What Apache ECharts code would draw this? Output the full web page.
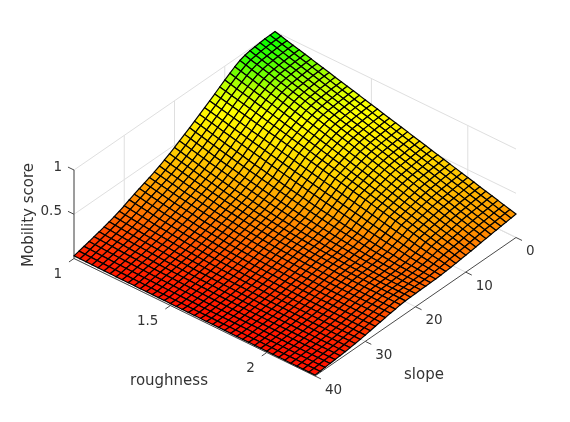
<!DOCTYPE html>
<html><head><meta charset="utf-8">
<style>html,body{margin:0;padding:0;background:#fff}#c{width:570px;height:422px}</style>
<script src="https://cdn.jsdelivr.net/npm/echarts@6/dist/echarts.min.js"></script>
</head><body><div id="c"></div>
<script>
// Axis ticks and labels
const roughTicks = [1, 1.5, 2];
const slopeTicks = [0, 10, 20, 30, 40];
const scoreTicks = [0.5, 1];
const roughLimits = [1, 2.25];
const slopeLimits = [0, 40];
const scoreLimits = [0, 1];
const roughTitle = 'roughness';
const slopeTitle = 'slope';
const scoreTitle = 'Mobility score';
// Colour scale of the surface
const colourLevels = [0.02, 0.15, 0.28, 0.45, 0.7, 0.8, 1];
const colourValues = [[255,20,0],[255,98,0],[255,155,0],[255,203,0],[255,255,0],[205,255,0],[0,255,0]];
// Mobility score: one row per slope 0..40, one value per roughness step (1..2.25 in 40 steps)
const score = [
[1.000,.982,.963,.945,.927,.908,.890,.871,.853,.835,.816,.798,.780,.761,.743,.724,.706,.688,.669,.651,.633,.614,.596,.577,.559,.541,.522,.504,.486,.467,.449,.430,.412,.394,.375,.357,.339,.320,.302,.283,.265],
[.998,.980,.961,.943,.924,.906,.887,.869,.850,.832,.813,.795,.776,.758,.739,.721,.702,.684,.665,.647,.628,.610,.591,.573,.554,.536,.517,.499,.480,.462,.443,.425,.406,.388,.369,.351,.332,.314,.295,.277,.258],
[.995,.976,.958,.939,.921,.902,.883,.865,.846,.828,.809,.790,.772,.753,.735,.716,.697,.679,.660,.642,.623,.604,.586,.567,.549,.530,.511,.493,.474,.456,.437,.418,.400,.381,.363,.344,.325,.307,.288,.270,.251],
[.990,.971,.953,.934,.915,.897,.878,.859,.841,.822,.804,.785,.766,.748,.729,.710,.692,.673,.654,.636,.617,.598,.580,.561,.542,.524,.505,.486,.468,.449,.431,.412,.393,.375,.356,.337,.319,.300,.281,.263,.244],
[.984,.965,.947,.928,.909,.891,.872,.853,.835,.816,.797,.779,.760,.741,.723,.704,.685,.667,.648,.629,.611,.592,.573,.555,.536,.517,.498,.480,.461,.442,.424,.405,.386,.368,.349,.330,.312,.293,.274,.256,.237],
[.977,.958,.940,.921,.902,.884,.865,.846,.828,.809,.790,.772,.753,.734,.716,.697,.678,.660,.641,.622,.604,.585,.566,.548,.529,.510,.491,.473,.454,.435,.417,.398,.379,.361,.342,.323,.305,.286,.267,.249,.230],
[.966,.947,.929,.910,.892,.873,.854,.836,.817,.799,.780,.761,.743,.724,.706,.687,.668,.650,.631,.613,.594,.575,.557,.538,.520,.501,.482,.464,.445,.427,.408,.389,.371,.352,.334,.315,.296,.278,.259,.241,.222],
[.946,.928,.909,.891,.873,.855,.836,.818,.800,.781,.763,.745,.726,.708,.690,.672,.653,.635,.617,.598,.580,.562,.543,.525,.507,.489,.470,.452,.434,.415,.397,.379,.360,.342,.324,.306,.287,.269,.251,.232,.214],
[.915,.897,.880,.862,.844,.826,.809,.791,.773,.755,.738,.720,.702,.685,.667,.649,.631,.614,.596,.578,.561,.543,.525,.507,.490,.472,.454,.436,.419,.401,.383,.366,.348,.330,.312,.295,.277,.259,.241,.224,.206],
[.880,.863,.846,.829,.812,.795,.778,.761,.744,.727,.710,.692,.675,.658,.641,.624,.607,.590,.573,.556,.539,.522,.505,.488,.471,.454,.437,.420,.403,.386,.369,.351,.334,.317,.300,.283,.266,.249,.232,.215,.198],
[.842,.826,.809,.793,.777,.761,.744,.728,.712,.695,.679,.663,.647,.630,.614,.598,.582,.565,.549,.533,.517,.500,.484,.468,.451,.435,.419,.403,.386,.370,.354,.338,.321,.305,.289,.272,.256,.240,.224,.207,.191],
[.803,.788,.772,.757,.741,.726,.710,.695,.679,.664,.648,.633,.617,.602,.586,.571,.555,.540,.524,.509,.494,.478,.463,.447,.432,.416,.401,.385,.370,.354,.339,.323,.308,.292,.277,.261,.246,.230,.215,.199,.184],
[.763,.748,.734,.719,.704,.690,.675,.660,.646,.631,.617,.602,.587,.573,.558,.543,.529,.514,.499,.485,.470,.455,.441,.426,.411,.397,.382,.367,.353,.338,.324,.309,.294,.280,.265,.250,.236,.221,.206,.192,.177],
[.724,.709,.694,.678,.663,.648,.633,.618,.604,.589,.574,.559,.544,.530,.515,.500,.486,.472,.457,.443,.429,.415,.401,.386,.372,.358,.345,.331,.318,.304,.291,.278,.265,.253,.240,.227,.216,.204,.193,.181,.170],
[.687,.672,.656,.641,.625,.610,.595,.580,.565,.550,.535,.520,.506,.491,.477,.462,.448,.434,.420,.406,.392,.379,.366,.352,.339,.326,.314,.301,.289,.276,.264,.253,.242,.230,.219,.208,.199,.191,.182,.174,.165],
[.650,.634,.619,.603,.588,.572,.557,.542,.527,.512,.497,.483,.469,.454,.440,.426,.413,.399,.386,.372,.359,.347,.334,.322,.309,.297,.286,.275,.263,.252,.241,.231,.222,.212,.203,.193,.186,.180,.173,.167,.160],
[.613,.596,.580,.563,.547,.530,.515,.499,.484,.468,.453,.439,.425,.410,.396,.382,.369,.356,.344,.331,.318,.307,.296,.284,.273,.262,.252,.243,.233,.224,.214,.207,.199,.192,.184,.177,.173,.169,.165,.161,.157],
[.577,.561,.545,.528,.512,.496,.481,.466,.451,.436,.421,.408,.394,.381,.367,.354,.342,.330,.318,.306,.294,.284,.274,.263,.253,.243,.235,.226,.218,.209,.201,.195,.189,.182,.176,.170,.167,.164,.161,.158,.155],
[.542,.525,.509,.492,.476,.459,.444,.429,.415,.400,.385,.372,.359,.346,.333,.320,.309,.298,.287,.276,.265,.256,.247,.238,.229,.220,.213,.206,.199,.192,.185,.180,.176,.171,.167,.162,.160,.158,.157,.155,.153],
[.507,.491,.475,.459,.443,.427,.413,.399,.386,.372,.358,.346,.334,.321,.309,.297,.287,.277,.267,.257,.247,.239,.231,.223,.215,.207,.201,.195,.190,.184,.178,.174,.170,.167,.163,.159,.158,.156,.155,.153,.152],
[.472,.456,.440,.425,.409,.393,.380,.366,.353,.339,.326,.315,.304,.292,.281,.270,.261,.252,.243,.234,.225,.218,.211,.205,.198,.191,.186,.182,.177,.172,.167,.164,.162,.159,.157,.154,.153,.152,.152,.151,.150],
[.440,.425,.410,.396,.381,.366,.353,.341,.328,.316,.303,.293,.283,.272,.262,.252,.244,.236,.228,.220,.212,.206,.200,.194,.188,.182,.178,.174,.170,.166,.162,.160,.158,.155,.153,.151,.150,.150,.149,.149,.148],
[.409,.395,.381,.367,.353,.339,.327,.316,.304,.293,.281,.272,.262,.253,.243,.234,.227,.220,.213,.206,.199,.194,.189,.183,.178,.173,.170,.166,.163,.159,.156,.154,.152,.151,.149,.147,.147,.146,.146,.145,.145],
[.379,.366,.353,.340,.327,.314,.303,.292,.282,.271,.260,.251,.243,.234,.226,.217,.211,.204,.198,.191,.185,.181,.176,.172,.167,.163,.160,.157,.155,.152,.149,.148,.146,.145,.143,.142,.142,.141,.141,.140,.140],
[.352,.339,.327,.314,.302,.289,.279,.269,.258,.248,.238,.230,.222,.215,.207,.199,.193,.187,.181,.175,.169,.165,.161,.157,.153,.149,.147,.144,.142,.139,.137,.136,.135,.133,.132,.131,.131,.131,.130,.130,.130],
[.328,.316,.304,.292,.280,.268,.258,.248,.239,.229,.219,.212,.205,.197,.190,.183,.178,.172,.167,.161,.156,.152,.149,.145,.142,.138,.136,.134,.132,.130,.128,.127,.126,.125,.124,.123,.123,.123,.122,.122,.122],
[.305,.293,.281,.269,.257,.245,.236,.226,.217,.207,.198,.191,.184,.178,.171,.164,.159,.154,.150,.145,.140,.137,.134,.130,.127,.124,.122,.121,.119,.118,.116,.115,.115,.114,.114,.113,.113,.113,.112,.112,.112],
[.281,.270,.258,.247,.235,.224,.215,.206,.198,.189,.180,.174,.167,.161,.154,.148,.144,.139,.135,.130,.126,.123,.120,.118,.115,.112,.111,.109,.108,.106,.105,.104,.104,.103,.103,.102,.102,.102,.102,.102,.102],
[.257,.246,.235,.225,.214,.203,.195,.187,.178,.170,.162,.156,.150,.144,.138,.132,.128,.124,.121,.117,.113,.111,.108,.106,.103,.101,.100,.099,.097,.096,.095,.094,.094,.093,.093,.092,.092,.092,.092,.092,.092],
[.232,.222,.212,.202,.192,.182,.175,.167,.160,.152,.145,.140,.134,.129,.123,.118,.114,.111,.107,.104,.100,.098,.096,.093,.091,.089,.088,.087,.085,.084,.083,.083,.082,.082,.081,.081,.081,.081,.081,.081,.081],
[.205,.196,.187,.179,.170,.161,.154,.148,.141,.135,.128,.123,.118,.114,.109,.104,.101,.098,.094,.091,.088,.086,.084,.082,.080,.078,.077,.076,.075,.074,.073,.073,.072,.072,.071,.071,.071,.071,.071,.071,.071],
[.181,.173,.165,.158,.150,.142,.136,.130,.124,.118,.112,.108,.104,.099,.095,.091,.088,.085,.083,.080,.077,.075,.073,.072,.070,.068,.067,.066,.066,.065,.064,.064,.063,.063,.062,.062,.062,.062,.062,.062,.062],
[.160,.153,.146,.139,.132,.125,.120,.115,.109,.104,.099,.095,.091,.088,.084,.080,.077,.075,.072,.070,.067,.066,.064,.063,.061,.060,.059,.058,.058,.057,.056,.056,.055,.055,.054,.054,.054,.054,.054,.054,.054],
[.141,.135,.129,.122,.116,.110,.105,.101,.096,.092,.087,.084,.080,.077,.073,.070,.068,.066,.063,.061,.059,.058,.056,.055,.053,.052,.051,.051,.050,.050,.049,.049,.048,.048,.047,.047,.047,.047,.047,.047,.047],
[.122,.117,.111,.106,.100,.095,.091,.087,.083,.079,.075,.072,.069,.066,.063,.060,.058,.056,.054,.052,.050,.049,.048,.046,.045,.044,.043,.043,.042,.042,.041,.041,.041,.040,.040,.040,.040,.040,.040,.040,.040],
[.106,.101,.096,.092,.087,.082,.078,.075,.071,.068,.064,.062,.059,.057,.054,.052,.050,.048,.047,.045,.043,.042,.041,.040,.039,.038,.037,.037,.036,.036,.035,.035,.035,.034,.034,.034,.034,.034,.034,.034,.034],
[.090,.086,.082,.078,.074,.070,.067,.064,.061,.058,.055,.053,.051,.048,.046,.044,.043,.041,.040,.038,.037,.036,.035,.034,.033,.032,.032,.031,.031,.030,.030,.030,.030,.029,.029,.029,.029,.029,.029,.029,.029],
[.074,.071,.068,.064,.061,.058,.055,.053,.050,.048,.045,.043,.041,.040,.038,.036,.035,.034,.032,.031,.030,.029,.029,.028,.028,.027,.027,.026,.026,.025,.025,.025,.025,.024,.024,.024,.024,.024,.024,.024,.024],
[.059,.056,.054,.051,.049,.046,.044,.042,.040,.038,.036,.035,.033,.032,.030,.029,.028,.027,.026,.025,.024,.023,.023,.022,.022,.021,.021,.021,.020,.020,.020,.020,.020,.019,.019,.019,.019,.019,.019,.019,.019],
[.044,.042,.040,.038,.036,.034,.033,.031,.030,.028,.027,.026,.025,.023,.022,.021,.020,.020,.019,.019,.018,.018,.017,.017,.016,.016,.016,.015,.015,.015,.015,.015,.015,.014,.014,.014,.014,.014,.014,.014,.014],
[.030,.029,.029,.028,.028,.027,.027,.026,.026,.025,.025,.024,.024,.024,.023,.023,.022,.022,.021,.021,.020,.020,.019,.019,.018,.018,.017,.017,.016,.016,.015,.015,.014,.014,.013,.013,.012,.012,.011,.011,.010]
];

// Oblique view of the 3-D box on to the page plane (the hidden cartesian axes)
function project(r, s, z) {
  const u = (r - roughLimits[0]) / (roughLimits[1] - roughLimits[0]);
  const t = (s - slopeLimits[0]) / (slopeLimits[1] - slopeLimits[0]);
  return [275 + 241 * u - 201 * t, 120 + 117.5 * u + 138.5 * t - 88.5 * z];
}
function colourOf(z) {
  let i = 0;
  while (i < colourLevels.length - 2 && z > colourLevels[i + 1]) i++;
  const f = Math.max(0, Math.min(1, (z - colourLevels[i]) / (colourLevels[i + 1] - colourLevels[i])));
  const a = colourValues[i], b = colourValues[i + 1];
  return 'rgb(' + a.map((v, n) => Math.round(v + (b[n] - v) * f)).join(',') + ')';
}
const nRows = score.length, nCols = score[0].length;
const roughAt = j => roughLimits[0] + (roughLimits[1] - roughLimits[0]) * j / (nCols - 1);
const slopeAt = k => slopeLimits[0] + (slopeLimits[1] - slopeLimits[0]) * k / (nRows - 1);

// Wall and floor grid lines: [r0,s0,z0,r1,s1,z1]
const [r0, r1] = roughLimits, [s0, s1] = slopeLimits;
const gridLines = [];
scoreTicks.concat([0]).forEach(z => {
  gridLines.push([r0, s1, z, r0, s0, z]);
  gridLines.push([r0, s0, z, r1, s0, z]);
});
slopeTicks.forEach(s => {
  gridLines.push([r0, s, 0, r0, s, 1]);
  gridLines.push([r0, s, 0, r1, s, 0]);
});
roughTicks.forEach(r => {
  gridLines.push([r, s0, 0, r, s0, 1]);
  gridLines.push([r, s0, 0, r, s1, 0]);
});
// Axis rulers and ticks
const tickR = 0.03125, tickS = 1;
const axisLines = [
  [r0, s1, 0, r0, s1, 1],
  [r0, s1, 0, r1, s1, 0],
  [r1, s1, 0, r1, s0, 0]
];
scoreTicks.forEach(z => axisLines.push([r0, s1, z, r0 - tickR, s1, z]));
roughTicks.forEach(r => axisLines.push([r, s1, 0, r, s1 + tickS, 0]));
slopeTicks.forEach(s => axisLines.push([r1, s, 0, r1 + tickR, s, 0]));

// Surface cells, far corner first
const cells = [];
for (let k = 0; k < nRows - 1; k++) for (let j = 0; j < nCols - 1; j++) cells.push([k, j]);

// Texts: [text, r, s, z, dx, dy, align]
const fontTick = '13.5px "DejaVu Sans"', fontTitle = '15px "DejaVu Sans"';
const tickTexts = [];
scoreTicks.forEach(z => tickTexts.push([String(z), r0, s1, z, -12, -2.5, 'right']));
roughTicks.forEach(r => tickTexts.push([String(r), r, s1, 0, -12, 15.5, 'right']));
slopeTicks.forEach(s => tickTexts.push([String(s), r1, s, 0, 10, 14, 'left']));

const segmentItem = (api, style) => {
  const a = project(api.value(0), api.value(1), api.value(2));
  const b = project(api.value(3), api.value(4), api.value(5));
  const pa = api.coord(a), pb = api.coord(b);
  return { type: 'line', shape: { x1: pa[0], y1: pa[1], x2: pb[0], y2: pb[1] }, style };
};
const chart = echarts.init(document.getElementById('c'), null, { renderer: 'canvas' });
chart.setOption({
  animation: false,
  backgroundColor: '#fff',
  tooltip: { show: false },
  grid: { left: 0, right: 0, top: 0, bottom: 0 },
  xAxis: { type: 'value', min: 0, max: 570, show: false },
  yAxis: { type: 'value', min: 0, max: 422, inverse: true, show: false },
  series: [
    { type: 'custom', coordinateSystem: 'cartesian2d', silent: true, clip: false, z: 1,
      data: gridLines,
      renderItem: (p, api) => segmentItem(api, { stroke: '#dfdfdf', lineWidth: 1, fill: null }) },
    { type: 'custom', coordinateSystem: 'cartesian2d', silent: true, clip: false, z: 2,
      data: axisLines,
      renderItem: (p, api) => segmentItem(api, { stroke: '#4a4a4a', lineWidth: 1, fill: null }) },
    { type: 'custom', coordinateSystem: 'cartesian2d', silent: true, clip: false, z: 3, progressive: 0,
      data: cells,
      renderItem: (p, api) => {
        const k = api.value(0), j = api.value(1);
        const corner = (kk, jj) => api.coord(project(roughAt(jj), slopeAt(kk), score[kk][jj]));
        const mean = (score[k][j] + score[k][j + 1] + score[k + 1][j] + score[k + 1][j + 1]) / 4;
        return { type: 'polygon',
          shape: { points: [corner(k, j), corner(k, j + 1), corner(k + 1, j + 1), corner(k + 1, j)] },
          style: { fill: colourOf(mean), stroke: '#000', lineWidth: 1.2 } };
      } },
    { type: 'custom', coordinateSystem: 'cartesian2d', silent: true, clip: false, z: 4,
      data: tickTexts.map((d, i) => [i]),
      renderItem: (p, api) => {
        const d = tickTexts[api.value(0)];
        const q = api.coord(project(d[1], d[2], d[3]));
        return { type: 'text', style: { text: d[0], x: q[0] + d[4], y: q[1] + d[5], fill: '#333',
          font: fontTick, textAlign: d[6], textVerticalAlign: 'middle' } };
      } },
    { type: 'custom', coordinateSystem: 'cartesian2d', silent: true, clip: false, z: 4,
      data: [[169, 381, 0], [424, 375, 1], [29.5, 215, 2]],
      renderItem: (p, api) => {
        const q = api.coord([api.value(0), api.value(1)]);
        const which = api.value(2);
        return { type: 'text', x: q[0], y: q[1], rotation: which === 2 ? Math.PI / 2 : 0,
          style: { text: [roughTitle, slopeTitle, scoreTitle][which], x: 0, y: 0, fill: '#333',
            font: fontTitle, textAlign: 'center', textVerticalAlign: 'middle' } };
      } }
  ]
});
</script></body></html>
